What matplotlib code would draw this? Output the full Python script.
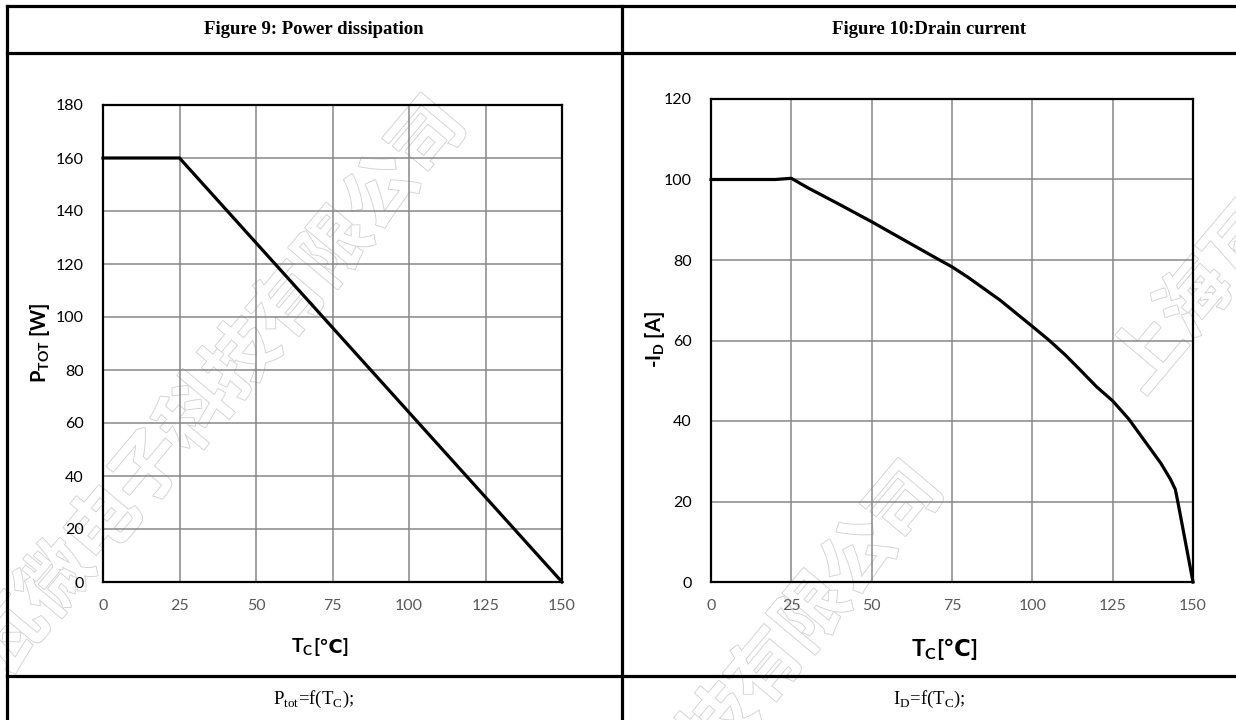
import numpy as np
import matplotlib
matplotlib.use('Agg')
import matplotlib.pyplot as plt
from matplotlib.lines import Line2D
import matplotlib.patheffects as pe

# data
tc_pwr = [0, 25, 150]
p_tot = [160, 160, 0]

tc_id = [0, 20, 25, 30, 40, 50, 60, 70, 75, 80, 90, 100, 105, 110, 115, 120, 125,
         130, 135, 140, 143, 144.5, 145.5, 150]
i_d = [100, 100, 100.3, 98, 93.8, 89.5, 85, 80.5, 78.3, 75.7, 70, 63.5, 60.2, 56.6, 52.6,
       48.5, 45, 40.5, 35, 29.5, 25.5, 23, 19, 0]

x_ticks = [0, 25, 50, 75, 100, 125, 150]
y_ticks_pwr = [0, 20, 40, 60, 80, 100, 120, 140, 160, 180]
y_ticks_id = [0, 20, 40, 60, 80, 100, 120]

W, H = 1236, 720
plt.rcParams['mathtext.fontset'] = 'custom'
plt.rcParams['mathtext.rm'] = 'Lato'
plt.rcParams['mathtext.bf'] = 'Lato:bold'

fig = plt.figure(figsize=(W / 100, H / 100), dpi=100)


def fx(px):
    return px / W


def fy(py):
    return 1 - py / H


# watermark, behind everything
wm = '上海瓦微电子科技有限公司'
wm_fx = [pe.Stroke(linewidth=1.3, foreground='#d2d2d2'), pe.Normal()]
ang = np.deg2rad(50)
step = 72
for (cx, cy, idx) in [(335, 250, 9), (905, 505, 11), (1150, 355, 0)]:
    x0 = cx - (idx + 0.5) * step * np.cos(ang)
    y0 = cy + (idx + 0.5) * step * np.sin(ang)
    fig.text(fx(x0), fy(y0), wm, rotation=50, rotation_mode='anchor', ha='left', va='center',
             family='Noto Sans CJK SC', weight='bold', fontsize=52, color='white',
             path_effects=wm_fx, zorder=-5)

# table borders
lw_tab = 2.3
for (x0, y0, x1, y1) in [(7, 6, W, 6), (7, 53, W, 53), (7, 676, W, 676),
                         (7, 6, 7, H), (622, 6, 622, H)]:
    fig.add_artist(Line2D([fx(x0), fx(x1)], [fy(y0), fy(y1)], color='black', lw=lw_tab))

serif = 'Liberation Serif'
fig.text(fx(314), fy(29), 'Figure 9: Power dissipation', ha='center', va='center',
         family=serif, weight='bold', fontsize=13.5)
fig.text(fx(929), fy(29), 'Figure 10:Drain current', ha='center', va='center',
         family=serif, weight='bold', fontsize=13.5)
fig.text(fx(314), fy(699), r'P$_{\mathregular{tot}}$=f(T$_{\mathregular{C}}$);', ha='center', va='center',
         family=serif, fontsize=13.5)
fig.text(fx(929), fy(699), r'I$_{\mathregular{D}}$=f(T$_{\mathregular{C}}$);', ha='center', va='center',
         family=serif, fontsize=13.5)


def style(ax, yt, ymax):
    ax.set_facecolor('none')
    ax.set_xlim(0, 150)
    ax.set_ylim(0, ymax)
    ax.set_xticks(x_ticks)
    ax.set_yticks(yt)
    ax.grid(True, color='#878787', lw=1.1)
    ax.set_axisbelow(True)
    for s in ax.spines.values():
        s.set_linewidth(1.6)
        s.set_color('black')
    ax.tick_params(length=0)
    ax.tick_params(axis='x', pad=12, labelcolor='#595959', labelsize=11.5)
    ax.tick_params(axis='y', pad=14, labelcolor='black', labelsize=11.5)
    for lab in ax.get_xticklabels() + ax.get_yticklabels():
        lab.set_family('Lato')


def tc_label(x_px, y_px, size, gap):
    fig.text(fx(x_px), fy(y_px), r'T$_\mathbf{C}$', ha='right', va='baseline',
             family='Lato', weight='bold', fontsize=size)
    fig.text(fx(x_px - gap), fy(y_px), '[℃]', ha='left', va='baseline',
             family=['Lato', 'DejaVu Sans'], weight='bold', fontsize=size)


ax1 = fig.add_axes([fx(103), fy(582), (562 - 103) / W, (582 - 105) / H])
style(ax1, y_ticks_pwr, 180)
ax1.plot(tc_pwr, p_tot, color='black', lw=2.3, clip_on=False, solid_joinstyle='miter')
tc_label(314, 653, 14, 1)
fig.text(fx(40), fy(343), r'P$_\mathbf{TOT}$ [W]', rotation=90, ha='center', va='center',
         family='Lato', weight='bold', fontsize=14.5)

ax2 = fig.add_axes([fx(711), fy(582), (1193 - 711) / W, (582 - 99) / H])
style(ax2, y_ticks_id, 120)
ax2.plot(tc_id, i_d, color='black', lw=2.3, clip_on=False)
tc_label(937, 656, 16.5, 1)
fig.text(fx(655), fy(340), r'-I$_\mathbf{D}$ [A]', rotation=90, ha='center', va='center',
         family='Lato', weight='bold', fontsize=14.5)

fig.savefig('out.png', dpi=100)
